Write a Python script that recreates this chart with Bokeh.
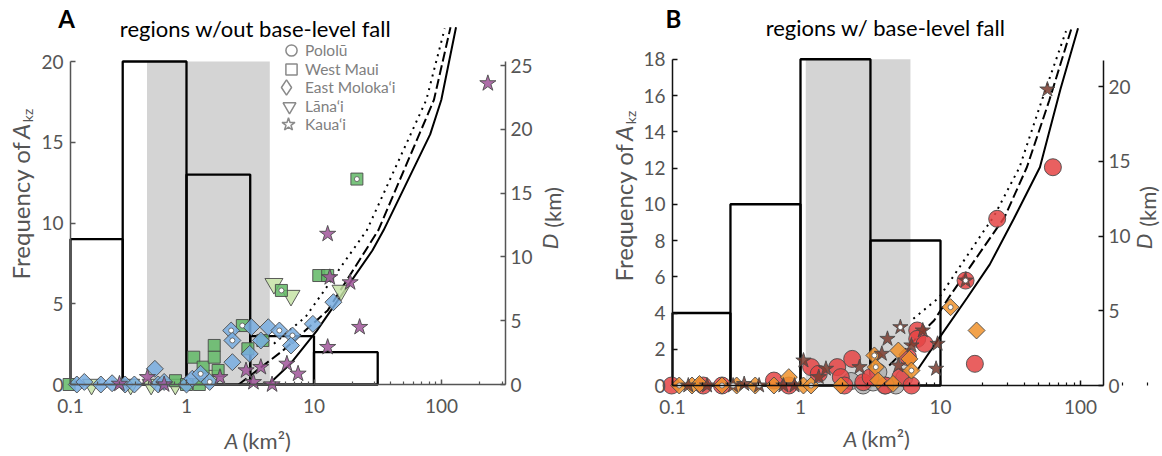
import math
from bokeh.plotting import figure
from bokeh.models import (Range1d, LinearAxis, LogAxis, FixedTicker, Label, Legend,
                          LegendItem)
from bokeh.layouts import row
from bokeh.embed import file_html
from bokeh.resources import INLINE

FONT = "Lato"
TXT = "#555555"

# ---------------- Panel A: regions w/out base-level fall ----------------
A_edges = [0.1, 0.316, 1.0, 3.16, 10.0, 31.6]
A_counts = [9, 20, 13, 3, 2]
A_shade = [0.49, 4.5]

A_solid_A = [4.4, 6.5, 10.5, 28.7, 35.2, 81.5, 99.6, 130.0]
A_solid_D = [0.0, 1.6, 4.2, 10.5, 12.1, 19.6, 22.3, 28.0]
A_dash_A = [2.56, 5.7, 12.8, 32.0, 87.2, 117.7]
A_dash_D = [0.0, 2.66, 5.8, 12.1, 22.3, 28.0]
A_dot_A = [4.85, 8.6, 26.0, 76.0, 106.0]
A_dot_D = [3.2, 5.3, 12.1, 22.3, 27.9]

# West Maui (squares)
wm_A = [0.12, 0.82, 1.0, 1.26, 1.14, 1.35, 1.65, 1.65, 1.77, 2.74, 3.03, 3.97, 5.55, 10.9, 12.8, 21.7]
wm_D = [0.0, 0.3, 0.0, 0.0, 2.14, 1.36, 3.06, 2.14, 1.1, 4.62, 2.8, 3.45, 7.37, 8.54, 8.54, 16.1]
wm_dot = [0, 0, 0, 0, 0, 0, 0, 0, 0, 1, 0, 0, 1, 0, 0, 1]
# East Moloka'i (diamonds)
em_A = [0.138, 0.158, 0.213, 0.261, 0.33, 0.39, 0.565, 0.60, 0.668, 1.0, 1.11, 1.29, 1.52,
        2.24, 2.29, 2.29, 3.23, 3.83, 3.13, 4.38, 5.35, 6.78, 6.6, 9.8, 14.2]
em_D = [0.0, 0.2, 0.0, 0.1, 0.0, 0.0, 1.23, 0.0, 0.2, 0.0, 0.45, 0.84, 0.2,
        4.23, 3.45, 1.75, 4.5, 3.45, 2.4, 4.49, 4.23, 3.84, 3.06, 4.75, 6.45]
em_dot = [0, 0, 0, 0, 0, 0, 0, 0, 0, 0, 0, 1, 1, 1, 1, 0, 0, 0, 0, 0, 1, 1, 0, 0, 0]
# Lana'i (down triangles)
la_A = [0.18, 0.365, 0.528, 0.817, 1.6, 4.85, 6.6, 16.3]
la_D = [0.0, 0.0, 0.0, 0.0, 0.7, 7.9, 6.97, 7.37]
# Kaua'i (stars)
ka_A = [0.298, 0.494, 0.668, 1.83, 2.93, 3.83, 3.35, 4.69, 6.13, 7.5, 12.8, 12.8, 13.3, 19.2, 22.8, 231.0]
ka_D = [0.05, 0.57, 0.0, 0.57, 1.1, 1.36, 0.18, 0.0, 1.62, 0.84, 2.93, 11.8, 8.4, 8.0, 4.5, 23.6]

legend_labels = ["Pololū", "West Maui", "East Moloka‘i", "Lāna‘i", "Kaua‘i"]

# ---------------- Panel B: regions w/ base-level fall ----------------
B_edges = [0.1, 0.316, 1.0, 3.16, 10.0]
B_counts = [4, 10, 18, 8]
B_shade = [1.09, 6.1]

B_solid_A = [6.8, 9.5, 15.6, 22.5, 33.4, 51.3, 71.8, 96.0]
B_solid_D = [1.0, 3.0, 5.9, 8.1, 11.15, 14.6, 19.8, 23.9]
B_dash_A = [4.3, 9.0, 11.5, 28.7, 41.4, 59.8, 86.3]
B_dash_D = [1.34, 4.35, 5.9, 11.26, 14.6, 19.06, 23.9]
B_dot_A = [6.4, 9.8, 20.5, 23.9, 36.7, 52.9, 78.8]
B_dot_D = [4.46, 5.9, 10.37, 11.26, 14.6, 19.06, 23.7]

gc_A = [2.3, 2.8, 3.3, 4.0, 4.8, 5.5, 3.6]
gc_D = [0.3, 0.0, 0.2, 0.0, 0.0, 0.5, 0.9]
rc_A = [0.12, 0.202, 0.275, 0.646, 0.825, 1.19, 1.35, 1.83, 1.94, 2.34, 2.06, 2.81, 3.17,
        4.05, 5.17, 6.21, 6.82, 6.82, 7.7, 5.85, 15.1, 17.6, 25.4, 63.5]
rc_D = [0.0, 0.0, 0.0, 0.33, 0.0, 1.23, 0.78, 1.23, 0.56, 1.78, 0.0, 0.22, 0.56,
        0.0, 0.56, 0.0, 3.68, 3.12, 2.79, 1.9, 7.02, 1.45, 11.15, 14.6]
od_A = [0.136, 0.168, 0.19, 0.275, 0.35, 0.475, 0.646, 0.825, 1.05, 1.19, 1.94, 3.37, 3.45,
        3.59, 4.58, 5.0, 6.0, 6.2, 11.8, 18.1]
od_D = [0.0, 0.0, 0.1, 0.0, 0.0, 0.0, 0.0, 0.56, 0.0, 0.0, 0.0, 2.01, 1.23,
        0.33, 0.11, 2.34, 1.78, 1.0, 5.24, 3.68]
od_dot = [1, 0, 0, 1, 0, 0, 0, 0, 0, 1, 0, 1, 1, 0, 0, 0, 0, 1, 1, 0]
bs_A = [0.158, 0.215, 0.33, 0.396, 0.506, 0.755, 0.906, 1.05, 1.52, 1.35, 2.64, 3.81, 4.18,
        5.0, 5.17, 6.2, 7.47, 9.53, 9.3, 15.1, 58.0]
bs_D = [0.0, 0.0, 0.0, 0.1, 0.0, 0.0, 0.0, 1.67, 1.12, 0.56, 1.23, 2.12, 3.12,
        1.34, 3.9, 2.68, 3.68, 2.79, 1.12, 7.02, 19.8]
bs_dot = [0, 0, 1, 0, 1, 0, 0, 0, 0, 0, 0, 0, 0, 0, 1, 0, 0, 0, 0, 1, 0]

X_MINOR = [0.2, 0.3, 0.4, 0.5, 0.6, 0.7, 0.8, 0.9, 2, 3, 4, 5, 6, 7, 8, 9,
           20, 30, 40, 50, 60, 70, 80, 90, 200, 300]

W, H = 581, 456


def build(xr, fr, dr, xlim, fbound, dbound, fticks, dticks, axcol):
    p = figure(width=W, height=H, x_axis_type="log", x_axis_location=None,
               y_axis_location=None, x_range=Range1d(*xr), y_range=Range1d(*fr),
               output_backend="svg", toolbar_location=None,
               min_border_left=0, min_border_right=0, min_border_top=0, min_border_bottom=0)
    p.title.visible = False
    p.outline_line_color = None
    p.grid.visible = False
    p.extra_y_ranges = {"D": Range1d(*dr)}

    def style(ax):
        ax.axis_line_color = axcol
        ax.axis_line_width = 1.5
        ax.major_tick_line_color = axcol
        ax.major_tick_line_width = 1.5
        ax.minor_tick_line_color = axcol
        ax.minor_tick_line_width = 1.2
        ax.major_tick_in = 5
        ax.major_tick_out = 0
        ax.minor_tick_in = 3
        ax.minor_tick_out = 0
        ax.major_label_text_font = FONT
        ax.major_label_text_font_size = "19px"
        ax.major_label_text_color = TXT

    xa = LogAxis(ticker=FixedTicker(ticks=[xlim[0], 1, 10, 100], minor_ticks=X_MINOR),
                 fixed_location=0, bounds=xlim, major_label_standoff=14)
    xa.major_label_overrides = {xlim[0]: "0.1", 1: "1", 10: "10", 100: "100"}
    style(xa)
    p.add_layout(xa, "below")

    ya = LinearAxis(ticker=FixedTicker(ticks=fticks, minor_ticks=[]),
                    fixed_location=xlim[0], bounds=fbound, major_label_standoff=7)
    style(ya)
    p.add_layout(ya, "left")

    ra = LinearAxis(y_range_name="D", ticker=FixedTicker(ticks=dticks, minor_ticks=[]),
                    fixed_location=xlim[1], bounds=dbound, major_label_standoff=5)
    style(ra)
    p.add_layout(ra, "right")
    return p


def add_label(p, cx, cy, text, size, color=TXT, style="normal", angle=0.0,
              align="center", baseline="middle"):
    p.add_layout(Label(x=cx, y=H - cy, x_units="screen", y_units="screen",
                       text=text, text_font=FONT, text_font_size=f"{size}px",
                       text_color=color, text_font_style=style, angle=angle,
                       text_align=align, text_baseline=baseline))


def hist(p, edges, counts, xmin, shade, top):
    p.quad(left=[shade[0]], right=[shade[1]], bottom=[0], top=[top],
           fill_color="#d4d4d4", line_color=None)
    lefts = [max(e, xmin) for e in edges[:-1]]
    rights = edges[1:]
    p.quad(left=lefts, right=rights, bottom=[0] * len(counts), top=counts,
           fill_color=None, line_color="black", line_width=2.3)


def curves(p, sA, sD, dA, dD, oA, oD):
    p.line(oA, oD, y_range_name="D", line_color="black", line_width=2, line_dash="2 5")
    p.line(dA, dD, y_range_name="D", line_color="black", line_width=2, line_dash="10 4")
    p.line(sA, sD, y_range_name="D", line_color="black", line_width=2)


def pts(p, xs, ys, marker, size, color, angle=0.0):
    p.scatter(xs, ys, y_range_name="D", marker=marker, size=size, angle=angle,
              fill_color=color, fill_alpha=0.85, line_color="#4a4a4a", line_width=1,
              line_alpha=0.9)


def dots(p, xs, ys, flags):
    dx = [x for x, f in zip(xs, flags) if f]
    dy = [y for y, f in zip(ys, flags) if f]
    p.scatter(dx, dy, y_range_name="D", marker="circle", size=5, fill_color="white",
              line_color="#555555", line_width=0.8)


# ---- panel A (local px: A=1 at 186, 127.5 px/decade; f=0 at y 384) ----
XA_lim = (0.1231, 317.7)
XA_rng = (10 ** ((0 - 186) / 127.5), 10 ** ((W - 186) / 127.5))
pA = build(XA_rng, (-(H - 384) / 16.15, 384 / 16.15), (-(H - 384) / 12.76, 384 / 12.76),
           XA_lim, (0, 20), (0, 25.3), [0, 5, 10, 15, 20], [0, 5, 10, 15, 20, 25], "#555555")
hist(pA, A_edges, A_counts, XA_lim[0], A_shade, 20)
curves(pA, A_solid_A, A_solid_D, A_dash_A, A_dash_D, A_dot_A, A_dot_D)
pts(pA, la_A, la_D, "inverted_triangle", 18, "#c6e3a6")
pts(pA, wm_A, wm_D, "square", 12, "#62b866")
pts(pA, em_A, em_D, "square", 12, "#78ade0", angle=math.pi / 4)
pts(pA, ka_A, ka_D, "star", 17, "#a0559a")
dots(pA, wm_A, wm_D, wm_dot)
dots(pA, em_A, em_D, em_dot)

# legend: one Legend per row (grey open symbols); legend glyph box sets symbol size
lg_markers = ["circle", "square", "diamond", "inverted_triangle", "star"]
lg_box = [28, 28, 38, 32, 34]
row_y = [50, 68.5, 87, 105.5, 124]
TEXT_X = 305
for mk, gb, lab, ry in zip(lg_markers, lg_box, legend_labels, row_y):
    r = pA.scatter([1e-6], [0], marker=mk, size=12, fill_color=None,
                   line_color="#8a8a8a", line_width=1.5)
    leg = Legend(items=[LegendItem(label=lab, renderers=[r])],
                 location=(TEXT_X - gb, H - (ry + gb / 2)), glyph_width=gb, glyph_height=gb,
                 label_height=16, spacing=0, label_standoff=0,
                 padding=0, margin=0, border_line_color=None, background_fill_alpha=0,
                 label_text_font=FONT, label_text_font_size="15.5px",
                 label_text_color="#808080")
    pA.add_layout(leg)

add_label(pA, 66, 18, "A", 24, color="black", style="bold")
add_label(pA, 255, 28, "regions w/out base-level fall", 22, color="black")
add_label(pA, 238, 440, "A", 22, style="italic", align="right")
add_label(pA, 242, 440, "(km²)", 22, align="left")
add_label(pA, 20, 279, "Frequency of", 24, angle=math.pi / 2, align="left")
add_label(pA, 20, 131, "A", 24, style="italic", angle=math.pi / 2)
add_label(pA, 27, 115, "kz", 14, angle=math.pi / 2)
add_label(pA, 549, 241, "D", 22, style="italic", angle=math.pi / 2)
add_label(pA, 552, 207, "(km)", 22, angle=math.pi / 2)

# ---- panel B (local px: A=1 at 219, 140 px/decade; f=0 at y 385) ----
XB_lim = (0.1218, 146.0)
XB_rng = (10 ** ((0 - 219) / 140), 10 ** ((W - 219) / 140))
pB = build(XB_rng, (-(H - 385) / 18.125, 385 / 18.125), (-(H - 385) / 14.95, 385 / 14.95),
           XB_lim, (0, 18), (0, 21.74), [0, 2, 4, 6, 8, 10, 12, 14, 16, 18],
           [0, 5, 10, 15, 20], "#111111")
hist(pB, B_edges, B_counts, XB_lim[0], B_shade, 18)
curves(pB, B_solid_A, B_solid_D, B_dash_A, B_dash_D, B_dot_A, B_dot_D)
pts(pB, gc_A, gc_D, "circle", 17, "#b0b0b0")
pts(pB, rc_A, rc_D, "circle", 17, "#e54444")
pts(pB, od_A, od_D, "square", 12, "#f0922b", angle=math.pi / 4)
pts(pB, bs_A, bs_D, "star", 16, "#7a3b2e")
dots(pB, od_A, od_D, od_dot)
dots(pB, bs_A, bs_D, bs_dot)

OX = 581
add_label(pB, 673 - OX, 18, "B", 24, color="black", style="bold")
add_label(pB, 885 - OX, 27, "regions w/ base-level fall", 22, color="black")
add_label(pB, 857 - OX, 438, "A", 22, style="italic", align="right")
add_label(pB, 861 - OX, 438, "(km²)", 22, align="left")
add_label(pB, 623 - OX, 281, "Frequency of", 24, angle=math.pi / 2, align="left")
add_label(pB, 623 - OX, 133, "A", 24, style="italic", angle=math.pi / 2)
add_label(pB, 630 - OX, 117, "kz", 14, angle=math.pi / 2)
add_label(pB, 1143 - OX, 241, "D", 22, style="italic", angle=math.pi / 2)
add_label(pB, 1147 - OX, 206, "(km)", 22, angle=math.pi / 2)

layout = row(pA, pB)
open("out.html", "w").write(file_html(layout, INLINE))
